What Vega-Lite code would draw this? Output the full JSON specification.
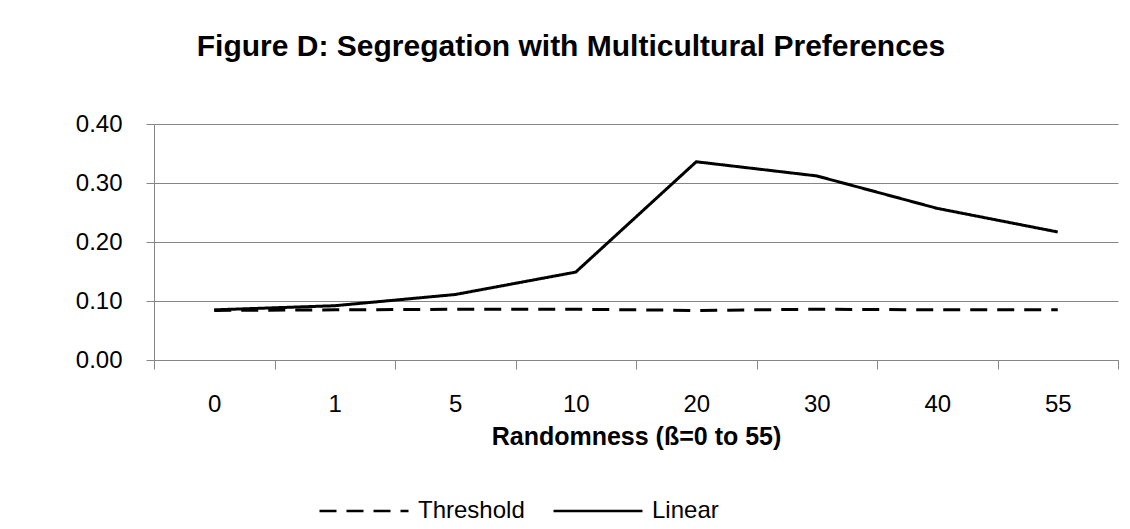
{
  "$schema": "https://vega.github.io/schema/vega-lite/v6.json",
  "width": 964,
  "height": 236,
  "autosize": {"type": "none"},
  "padding": {"left": 154, "top": 124, "right": 12, "bottom": 169},
  "background": "white",
  "title": {
    "text": "Figure D: Segregation with Multicultural Preferences",
    "font": "Liberation Sans",
    "fontSize": 30,
    "fontWeight": "bold",
    "color": "black",
    "anchor": "middle",
    "frame": "group",
    "baseline": "alphabetic",
    "dx": -65,
    "offset": 26
  },
  "data": {
    "values": [
      {"beta": 0, "series": "Threshold", "value": 0.084},
      {"beta": 1, "series": "Threshold", "value": 0.085},
      {"beta": 5, "series": "Threshold", "value": 0.086},
      {"beta": 10, "series": "Threshold", "value": 0.086},
      {"beta": 20, "series": "Threshold", "value": 0.084},
      {"beta": 30, "series": "Threshold", "value": 0.086},
      {"beta": 40, "series": "Threshold", "value": 0.085},
      {"beta": 55, "series": "Threshold", "value": 0.085},
      {"beta": 0, "series": "Linear", "value": 0.085},
      {"beta": 1, "series": "Linear", "value": 0.092},
      {"beta": 5, "series": "Linear", "value": 0.111},
      {"beta": 10, "series": "Linear", "value": 0.149},
      {"beta": 20, "series": "Linear", "value": 0.336},
      {"beta": 30, "series": "Linear", "value": 0.312},
      {"beta": 40, "series": "Linear", "value": 0.257},
      {"beta": 55, "series": "Linear", "value": 0.217}
    ]
  },
  "mark": {"type": "line", "color": "black", "strokeWidth": 3},
  "encoding": {
    "x": {
      "field": "beta",
      "type": "ordinal",
      "scale": {"type": "band", "paddingInner": 0, "paddingOuter": 0},
      "axis": {
        "title": "Randomness (ß=0 to 55)",
        "titleFont": "Liberation Sans",
        "titleFontSize": 25,
        "titleFontWeight": "bold",
        "titleColor": "black",
        "titlePadding": 8,
        "labelFont": "Liberation Sans",
        "labelFontSize": 24,
        "labelColor": "black",
        "labelAngle": 0,
        "labelPadding": 23,
        "tickBand": "extent",
        "tickSize": 9,
        "tickColor": "#868686",
        "domainColor": "#868686",
        "grid": false
      }
    },
    "y": {
      "field": "value",
      "type": "quantitative",
      "scale": {"domain": [0, 0.4]},
      "axis": {
        "title": null,
        "values": [0, 0.1, 0.2, 0.3, 0.4],
        "format": ".2f",
        "labelFont": "Liberation Sans",
        "labelFontSize": 24,
        "labelColor": "black",
        "labelPadding": 24,
        "tickSize": 8,
        "tickColor": "#868686",
        "domainColor": "#868686",
        "grid": true,
        "gridColor": "#868686",
        "gridWidth": 1
      }
    },
    "strokeDash": {
      "field": "series",
      "type": "nominal",
      "scale": {"domain": ["Threshold", "Linear"], "range": [[17, 10], [1, 0]]},
      "legend": {
        "title": null,
        "orient": "none",
        "legendX": 164,
        "legendY": 341,
        "direction": "horizontal",
        "symbolType": "stroke",
        "symbolSize": 7921,
        "symbolStrokeWidth": 2.5,
        "symbolStrokeColor": "black",
        "labelFont": "Liberation Sans",
        "labelFontSize": 24,
        "labelColor": "black",
        "labelOffset": 8,
        "columnPadding": 23
      }
    }
  },
  "config": {"view": {"stroke": null}}
}
